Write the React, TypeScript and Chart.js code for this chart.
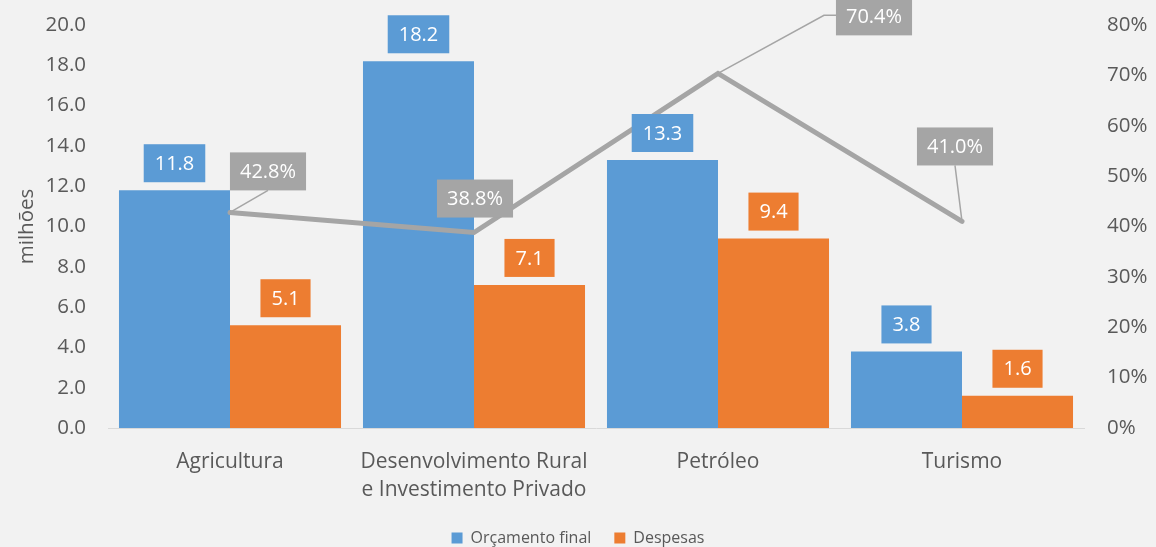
import React, { useEffect, useRef } from "react";
import { Chart, registerables } from "chart.js";

Chart.register(...registerables);

const categories: (string | string[])[] = [
  "Agricultura",
  ["Desenvolvimento Rural", "e Investimento Privado"],
  "Petróleo",
  "Turismo",
];
const orcamentoFinal = [11.8, 18.2, 13.3, 3.8];
const despesas = [5.1, 7.1, 9.4, 1.6];
const execucaoPct = [42.8, 38.8, 70.4, 41.0];

const FONT = "'Open Sans', 'Noto Sans', sans-serif";
const TEXT = "#595959";

// placement of the percentage callouts relative to their points
const PCT_LAYOUT = [
  { dx: 38, dy: -41, leader: [[0, 0], [38, -22]] },
  { dx: 1, dy: -34, leader: [] as number[][] },
  { dx: 156, dy: -57, leader: [[0, 0], [106, -58], [118, -58]] },
  { dx: -7, dy: -75, leader: [[0, 0], [-7, -56]] },
];

const labelPlugin = {
  id: "boxLabels",
  afterDatasetsDraw(chart: any) {
    const ctx = chart.ctx as CanvasRenderingContext2D;
    ctx.save();
    ctx.font = `20px ${FONT}`;
    ctx.textAlign = "center";
    ctx.textBaseline = "middle";
    // bar labels
    [0, 1].forEach((di) => {
      const ds = chart.data.datasets[di];
      const meta = chart.getDatasetMeta(di);
      meta.data.forEach((el: any, i: number) => {
        const txt = (ds.data[i] as number).toFixed(1);
        const w = ctx.measureText(txt).width + 22;
        const h = 38;
        const bottom = el.y - 8;
        ctx.fillStyle = ds.backgroundColor;
        ctx.fillRect(el.x - w / 2, bottom - h, w, h);
        ctx.fillStyle = "#FFFFFF";
        ctx.fillText(txt, el.x, bottom - h / 2 + 1);
      });
    });
    // percentage labels
    const lds = chart.data.datasets[2];
    const lmeta = chart.getDatasetMeta(2);
    lmeta.data.forEach((el: any, i: number) => {
      const L = PCT_LAYOUT[i];
      if (L.leader.length > 1) {
        ctx.strokeStyle = "#A5A5A5";
        ctx.lineWidth = 1.5;
        ctx.beginPath();
        L.leader.forEach((p, k) => {
          if (k === 0) ctx.moveTo(el.x + p[0], el.y + p[1]);
          else ctx.lineTo(el.x + p[0], el.y + p[1]);
        });
        ctx.stroke();
      }
    });
    lmeta.data.forEach((el: any, i: number) => {
      const L = PCT_LAYOUT[i];
      const txt = (lds.data[i] as number).toFixed(1) + "%";
      const w = ctx.measureText(txt).width + 20;
      const h = 38;
      const cx = el.x + L.dx;
      const cy = el.y + L.dy;
      ctx.fillStyle = "#A5A5A5";
      ctx.fillRect(cx - w / 2, cy - h / 2, w, h);
      ctx.fillStyle = "#FFFFFF";
      ctx.fillText(txt, cx, cy + 1);
    });
    ctx.restore();
  },
};

export default function App() {
  const ref = useRef<HTMLCanvasElement>(null);
  useEffect(() => {
    const chart = new Chart(ref.current!, {
      type: "bar",
      data: {
        labels: categories as any,
        datasets: [
          {
            label: "Orçamento final",
            data: orcamentoFinal,
            backgroundColor: "#5B9BD5",
            yAxisID: "y",
            order: 1,
            categoryPercentage: 0.91,
            barPercentage: 1.0,
          },
          {
            label: "Despesas",
            data: despesas,
            backgroundColor: "#ED7D31",
            yAxisID: "y",
            order: 1,
            categoryPercentage: 0.91,
            barPercentage: 1.0,
          },
          {
            type: "line",
            label: "Execução",
            data: execucaoPct,
            borderColor: "#A5A5A5",
            backgroundColor: "#A5A5A5",
            borderWidth: 5,
            borderCapStyle: "round",
            borderJoinStyle: "miter",
            pointRadius: 0,
            yAxisID: "y1",
            order: 0,
          } as any,
        ],
      },
      options: {
        responsive: false,
        animation: false,
        layout: { padding: { top: 25, bottom: -9, left: 0, right: 0 } },
        plugins: {
          tooltip: { enabled: false },
          legend: {
            position: "bottom",
            labels: {
              filter: (item: any) => item.datasetIndex !== 2,
              boxWidth: 11,
              boxHeight: 11,
              padding: 23,
              color: TEXT,
              font: { family: FONT, size: 16 },
            },
          },
        },
        scales: {
          x: {
            grid: { display: false, drawTicks: false },
            border: { display: true, color: "#D9D9D9", width: 1 },
            ticks: {
              color: TEXT,
              font: { family: FONT, size: 21, lineHeight: 1.33 },
              padding: 20,
              maxRotation: 0,
            },
            afterFit: (s: any) => {
              s.height = 79;
            },
          },
          y: {
            position: "left",
            min: 0,
            max: 20,
            grid: {
              display: false,
              drawTicks: true,
              tickLength: 22,
              color: "rgba(0,0,0,0)",
            },
            border: { display: false },
            ticks: {
              stepSize: 2,
              color: TEXT,
              font: { family: FONT, size: 20.5 },
              padding: 0,
              callback: (v: any) => Number(v).toFixed(1),
            },
            title: {
              display: true,
              text: "milhões",
              color: TEXT,
              font: { family: FONT, size: 20.5 },
              padding: { top: 15, bottom: 0 },
            },
            afterFit: (s: any) => {
              s.width = 108;
            },
          },
          y1: {
            position: "right",
            min: 0,
            max: 80,
            grid: {
              display: false,
              drawTicks: true,
              tickLength: 23,
              color: "rgba(0,0,0,0)",
            },
            border: { display: false },
            ticks: {
              stepSize: 10,
              color: TEXT,
              font: { family: FONT, size: 20.5 },
              padding: 0,
              callback: (v: any) => v + "%",
            },
            afterFit: (s: any) => {
              s.width = 72;
            },
          },
        },
      },
      plugins: [labelPlugin],
    });
    return () => chart.destroy();
  }, []);
  return (
    <div
      style={{
        position: "absolute",
        left: 0,
        top: 0,
        width: 1156,
        height: 547,
        background: "#F2F2F2",
      }}
    >
      <canvas ref={ref} width={1156} height={547} />
    </div>
  );
}
